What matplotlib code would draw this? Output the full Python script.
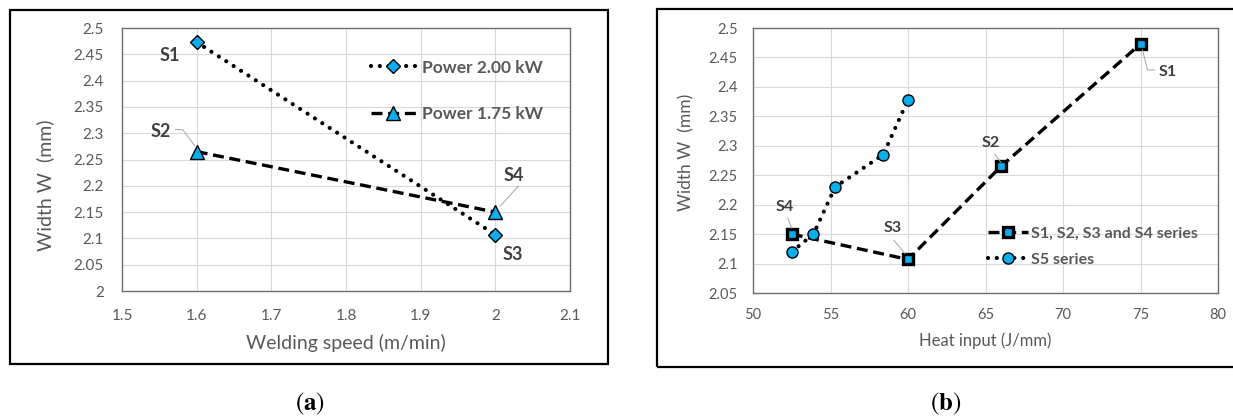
import matplotlib
matplotlib.use("Agg")
import matplotlib.pyplot as plt
from matplotlib.patches import Rectangle

# (a) width vs welding speed, two laser powers
speed = [1.6, 2.0]
width_p200 = [2.473, 2.107]
width_p175 = [2.265, 2.150]
speed_ticks = [1.5, 1.6, 1.7, 1.8, 1.9, 2.0, 2.1]
speed_tick_labels = ["1.5", "1.6", "1.7", "1.8", "1.9", "2", "2.1"]
width_ticks_a = [2.0, 2.05, 2.1, 2.15, 2.2, 2.25, 2.3, 2.35, 2.4, 2.45, 2.5]
width_tick_labels_a = ["2", "2.05", "2.1", "2.15", "2.2", "2.25", "2.3",
                       "2.35", "2.4", "2.45", "2.5"]

# (b) width vs heat input
heat_s = [52.5, 60.0, 66.0, 75.0]
width_s = [2.150, 2.107, 2.265, 2.473]
names_s = ["S4", "S3", "S2", "S1"]
heat_s5 = [52.5, 53.9, 55.3, 58.4, 60.0]
width_s5 = [2.120, 2.150, 2.230, 2.285, 2.378]
heat_ticks = [50, 55, 60, 65, 70, 75, 80]
width_ticks_b = [2.05, 2.1, 2.15, 2.2, 2.25, 2.3, 2.35, 2.4, 2.45, 2.5]
width_tick_labels_b = ["2.05", "2.1", "2.15", "2.2", "2.25", "2.3",
                       "2.35", "2.4", "2.45", "2.5"]

BLUE = "#00b0f0"
GREY_TXT = "#595959"
LABEL_TXT = "#404040"
GRID = "#d9d9d9"
LEADER = "#a6a6a6"

plt.rcParams["font.family"] = ["Lato", "DejaVu Sans"]
plt.rcParams["mathtext.fontset"] = "stix"

DOT = (0, (0.01, 2.1))
DASH = (0, (3.3, 1.7))

fig = plt.figure(figsize=(12.33, 4.19), dpi=100)


def style_axes(ax, tick_size, pad):
    ax.grid(True, color=GRID, lw=0.8)
    ax.set_axisbelow(True)
    for s in ax.spines.values():
        s.set_color("#6f6f6f")
        s.set_linewidth(1.0)
    ax.tick_params(length=0, labelsize=tick_size, colors=GREY_TXT, pad=pad)


def label_point(ax, text, xy, off, size):
    ax.annotate(text, xy=xy, xytext=off, textcoords="offset pixels",
                ha="center", va="center", fontsize=size, fontweight="bold",
                color=LABEL_TXT)


def leader_line(ax, xy, segs):
    # segs: pixel offsets from the data point
    x0, y0 = ax.transData.transform(xy)
    xs = [x0 + dx for dx, dy in segs]
    ys = [y0 + dy for dx, dy in segs]
    ax.plot(xs, ys, color=LEADER, lw=0.7, transform=None, zorder=4)


# ---------------- panel (a) ----------------
ax1 = fig.add_axes([122 / 1233, 1 - 291 / 419, 448 / 1233, 263 / 419])
ax1.plot(speed, width_p200, linestyle=DOT, dash_capstyle="round", lw=3.0,
         color="black", marker="D", ms=6.8, mfc=BLUE, mec="black", mew=1.0,
         label="Power 2.00 kW", zorder=3)
ax1.plot(speed, width_p175, linestyle=DASH, lw=2.4, color="black",
         marker="^", ms=10, mfc=BLUE, mec="black", mew=1.0,
         label="Power 1.75 kW", zorder=3)
ax1.set_xlim(1.5, 2.1)
ax1.set_ylim(2.0, 2.5)
ax1.set_xticks(speed_ticks, speed_tick_labels)
ax1.set_yticks(width_ticks_a, width_tick_labels_a)
style_axes(ax1, 11, 13)
ax1.set_xlabel("Welding speed (m/min)", fontsize=14, color=GREY_TXT,
               labelpad=8)
ax1.set_ylabel("Width W  (mm)", fontsize=14, color=GREY_TXT, va="center")
ax1.yaxis.set_label_coords(-0.172, 0.403)
ax1.legend(loc="upper left", bbox_to_anchor=(0.555, 0.88), frameon=False,
           numpoints=1, handlelength=2.6, handletextpad=0.35,
           labelspacing=1.75, borderpad=0, borderaxespad=0,
           prop=dict(size=12.5, weight="bold"), labelcolor=GREY_TXT)

fig.canvas.draw()
label_point(ax1, "S1", (speed[0], width_p200[0]), (-27, -13), 13)
label_point(ax1, "S3", (speed[1], width_p200[1]), (17, -20), 13)
label_point(ax1, "S2", (speed[0], width_p175[0]), (-36, 20), 13)
label_point(ax1, "S4", (speed[1], width_p175[1]), (18, 37), 13)
leader_line(ax1, (speed[0], width_p175[0]), [(-21, 22), (-14, 22), (-2, 6)])
leader_line(ax1, (speed[1], width_p175[1]), [(23, 26), (5, 6)])

# ---------------- panel (b) ----------------
ax2 = fig.add_axes([753 / 1233, 1 - 293 / 419, 465 / 1233, 265 / 419])
ax2.plot(heat_s, width_s, linestyle=DASH, lw=2.4, color="black",
         marker="s", ms=6.6, mfc=BLUE, mec="black", mew=2.4,
         label="S1, S2, S3 and S4 series", zorder=3)
ax2.plot(heat_s5, width_s5, linestyle=DOT, dash_capstyle="round", lw=3.0,
         color="black", marker="o", ms=8, mfc=BLUE, mec="black", mew=1.0,
         label="S5 series", zorder=3)
ax2.set_xlim(50, 80)
ax2.set_ylim(2.05, 2.5)
ax2.set_xticks(heat_ticks)
ax2.set_yticks(width_ticks_b, width_tick_labels_b)
style_axes(ax2, 10.5, 11)
ax2.set_xlabel("Heat input (J/mm)", fontsize=12, color=GREY_TXT,
               labelpad=7)
ax2.set_ylabel("Width W  (mm)", fontsize=12.5, color=GREY_TXT, va="center")
ax2.yaxis.set_label_coords(-0.143, 0.53)
ax2.legend(loc="upper left", bbox_to_anchor=(0.505, 0.25), frameon=False,
           numpoints=1, handlelength=2.5, handletextpad=0.2,
           labelspacing=0.75, borderpad=0, borderaxespad=0,
           prop=dict(size=11.5, weight="bold"), labelcolor=GREY_TXT)

fig.canvas.draw()
offsets_b = {"S1": (27, -28), "S2": (-10, 23), "S3": (-15, 31), "S4": (-7, 27)}
for hx, wy, nm in zip(heat_s, width_s, names_s):
    label_point(ax2, nm, (hx, wy), offsets_b[nm], 11.5)
leader_line(ax2, (heat_s[3], width_s[3]), [(2, -6), (7, -26), (14, -26)])
leader_line(ax2, (heat_s[2], width_s[2]), [(-6, 12), (0, 4)])
leader_line(ax2, (heat_s[1], width_s[1]), [(-14, 19), (-3, 6)])
leader_line(ax2, (heat_s[0], width_s[0]), [(-4, 16), (0, 6)])

# outer chart frames
fig.patches.append(Rectangle((9.5 / 1233, 1 - 364 / 419), 598.5 / 1233,
                             354 / 419, transform=fig.transFigure,
                             fill=False, ec="black", lw=1.6, zorder=0))
fig.patches.append(Rectangle((656.5 / 1233, 1 - 367 / 419), 600 / 1233,
                             357.5 / 419, transform=fig.transFigure,
                             fill=False, ec="black", lw=1.6, zorder=0))

# panel captions
fig.text(310 / 1233, 1 - 404 / 419, r"($\mathbf{a}$)", ha="center",
         va="center", fontsize=18, family="STIXGeneral")
fig.text(946 / 1233, 1 - 404 / 419, r"($\mathbf{b}$)", ha="center",
         va="center", fontsize=18, family="STIXGeneral")

fig.savefig("out.png", dpi=100)
